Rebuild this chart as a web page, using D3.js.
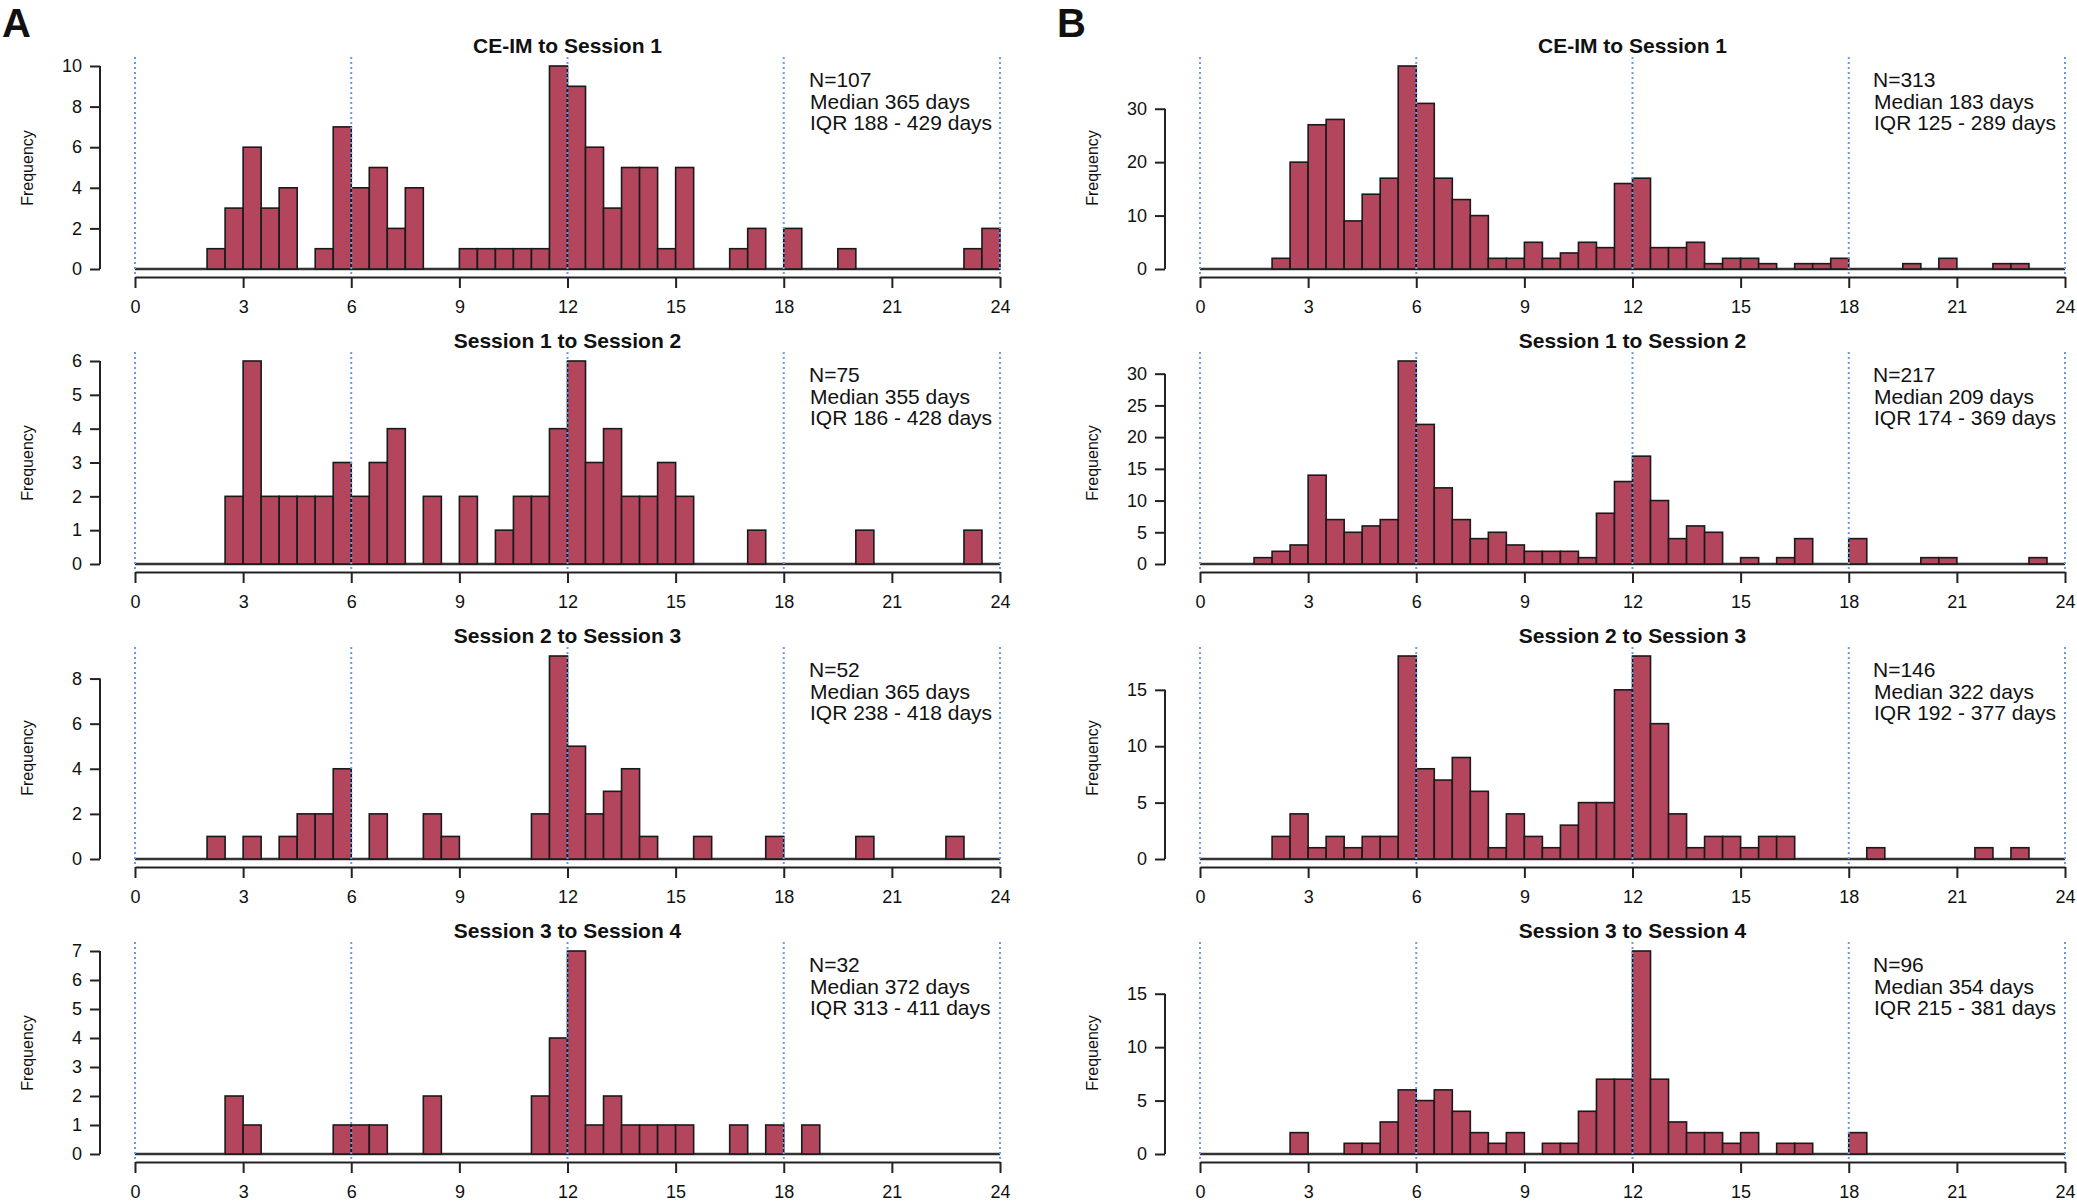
<!DOCTYPE html>
<html><head><meta charset="utf-8">
<script src="https://cdn.jsdelivr.net/npm/d3@7"></script>
<style>
body{margin:0;background:#fff}
svg{display:block}
text{font-family:"Liberation Sans",Arial,Helvetica,sans-serif;fill:#111}
</style>
</head><body>
<svg id="chart" width="2077" height="1203"></svg>
<script>
// ---- data (counts per half-month bin, 0..24 months, 48 bins) ----
const binWidth = 0.5;
const xTicks = [0, 3, 6, 9, 12, 15, 18, 21, 24];
const refLines = [0, 6, 12, 18, 24];
const panelLetters = ["A", "B"];
const titles = ["CE-IM to Session 1", "Session 1 to Session 2", "Session 2 to Session 3", "Session 3 to Session 4"];

const countsA1 = [0,0,0,0,1,3,6,3,4,0, 1,7,4,5,2,4,0,0,1,1, 1,1,1,10,9,6,3,5,5,1, 5,0,0,1,2,0,2,0,0,1, 0,0,0,0,0,0,1,2];
const countsA2 = [0,0,0,0,0,2,6,2,2,2, 2,3,2,3,4,0,2,0,2,0, 1,2,2,4,6,3,4,2,2,3, 2,0,0,0,1,0,0,0,0,0, 1,0,0,0,0,0,1,0];
const countsA3 = [0,0,0,0,1,0,1,0,1,2, 2,4,0,2,0,0,2,1,0,0, 0,0,2,9,5,2,3,4,1,0, 0,1,0,0,0,1,0,0,0,0, 1,0,0,0,0,1,0,0];
const countsA4 = [0,0,0,0,0,2,1,0,0,0, 0,1,1,1,0,0,2,0,0,0, 0,0,2,4,7,1,2,1,1,1, 1,0,0,1,0,1,0,1,0,0, 0,0,0,0,0,0,0,0];
const countsB1 = [0,0,0,0,2,20,27,28,9,14, 17,38,31,17,13,10,2,2,5,2, 3,5,4,16,17,4,4,5,1,2, 2,1,0,1,1,2,0,0,0,1, 0,2,0,0,1,1,0,0];
const countsB2 = [0,0,0,1,2,3,14,7,5,6, 7,32,22,12,7,4,5,3,2,2, 2,1,8,13,17,10,4,6,5,0, 1,0,1,4,0,0,4,0,0,0, 1,1,0,0,0,0,1,0];
const countsB3 = [0,0,0,0,2,4,1,2,1,2, 2,18,8,7,9,6,1,4,2,1, 3,5,5,15,18,12,4,1,2,2, 1,2,2,0,0,0,0,1,0,0, 0,0,0,1,0,1,0,0];
const countsB4 = [0,0,0,0,0,2,0,0,1,1, 3,6,5,6,4,2,1,2,0,1, 1,4,7,7,19,7,3,2,2,1, 2,0,1,1,0,0,2,0,0,0, 0,0,0,0,0,0,0,0];

const yTicksA1 = [0,2,4,6,8,10];
const yTicksA2 = [0,1,2,3,4,5,6];
const yTicksA3 = [0,2,4,6,8];
const yTicksA4 = [0,1,2,3,4,5,6,7];
const yTicksB1 = [0,10,20,30];
const yTicksB2 = [0,5,10,15,20,25,30];
const yTicksB3 = [0,5,10,15];
const yTicksB4 = [0,5,10,15];

const notesA1 = ["N=107", "Median 365 days", "IQR 188 - 429 days"];
const notesA2 = ["N=75", "Median 355 days", "IQR 186 - 428 days"];
const notesA3 = ["N=52", "Median 365 days", "IQR 238 - 418 days"];
const notesA4 = ["N=32", "Median 372 days", "IQR 313 - 411 days"];
const notesB1 = ["N=313", "Median 183 days", "IQR 125 - 289 days"];
const notesB2 = ["N=217", "Median 209 days", "IQR 174 - 369 days"];
const notesB3 = ["N=146", "Median 322 days", "IQR 192 - 377 days"];
const notesB4 = ["N=96", "Median 354 days", "IQR 215 - 381 days"];

const counts = [[countsA1, countsA2, countsA3, countsA4], [countsB1, countsB2, countsB3, countsB4]];
const yTicks = [[yTicksA1, yTicksA2, yTicksA3, yTicksA4], [yTicksB1, yTicksB2, yTicksB3, yTicksB4]];
const notes = [[notesA1, notesA2, notesA3, notesA4], [notesB1, notesB2, notesB3, notesB4]];

// ---- layout ----
const colX0 = [135, 1200];
const plotW = 865;
const rowY0 = 269, rowStep = 295, plotH = 203;
const barFill = "#b3465c";
const refColor = "#6b9be8";

const svg = d3.select("#chart");

panelLetters.forEach((L, c) => {
  svg.append("text").attr("x", c === 0 ? 2 : 1057).attr("y", 37)
    .style("font-size", "40px").style("font-weight", "bold").text(L);
});

for (let c = 0; c < 2; c++) {
  for (let r = 0; r < 4; r++) {
    const data = counts[c][r];
    const ticks = yTicks[c][r];
    const x0 = colX0[c];
    const y0 = rowY0 + r * rowStep;
    const maxC = d3.max(data);
    const x = d3.scaleLinear().domain([0, 24]).range([x0, x0 + plotW]);
    const y = d3.scaleLinear().domain([0, maxC]).range([y0, y0 - plotH]);
    const g = svg.append("g");

    // title
    g.append("text").attr("x", (x(0) + x(24)) / 2).attr("y", y0 - 216)
      .attr("text-anchor", "middle").style("font-size", "21px").style("font-weight", "bold")
      .text(titles[r]);

    // baseline of zero-height bins
    g.append("line").attr("x1", x(0)).attr("x2", x(24)).attr("y1", y0).attr("y2", y0)
      .attr("stroke", "#333").attr("stroke-width", 2.6);

    // bars
    g.selectAll("rect.bar").data(data.map((v, i) => ({v, i})).filter(d => d.v > 0))
      .join("rect").attr("class", "bar")
      .attr("x", d => x(d.i * binWidth))
      .attr("width", d => x((d.i + 1) * binWidth) - x(d.i * binWidth))
      .attr("y", d => y(d.v))
      .attr("height", d => y0 - y(d.v))
      .attr("fill", barFill).attr("stroke", "#1a1a1a").attr("stroke-width", 1.6);

    // reference dotted lines
    g.selectAll("line.ref").data(refLines).join("line").attr("class", "ref")
      .attr("x1", d => x(d)).attr("x2", d => x(d))
      .attr("y1", y0 - 212).attr("y2", y0 + 8)
      .attr("stroke", refColor).attr("stroke-width", 2).attr("stroke-dasharray", "2,3");

    // x axis
    const xa = g.append("g").attr("transform", `translate(0,${y0 + 8})`)
      .call(d3.axisBottom(x).tickValues(xTicks).tickSize(11).tickSizeOuter(0).tickPadding(12).tickFormat(d3.format("d")));
    xa.select(".domain").attr("stroke", "#222").attr("stroke-width", 2);
    xa.selectAll(".tick line").attr("stroke", "#222").attr("stroke-width", 2);
    xa.selectAll("text").style("font-size", "18px").attr("fill", "#111");

    // y axis
    const ya = g.append("g").attr("transform", `translate(${x0 - 35},0)`)
      .call(d3.axisLeft(y).tickValues(ticks).tickSize(10).tickPadding(8).tickFormat(d3.format("d")));
    ya.select(".domain").remove();
    ya.append("line").attr("x1", 0).attr("x2", 0).attr("y1", y(0)).attr("y2", y(d3.max(ticks)))
      .attr("stroke", "#222").attr("stroke-width", 2);
    ya.selectAll(".tick line").attr("stroke", "#222").attr("stroke-width", 2);
    ya.selectAll("text").style("font-size", "18px").attr("fill", "#111");

    // y label
    g.append("text").attr("transform", `translate(${x0 - 102},${y0 - 101}) rotate(-90)`)
      .attr("text-anchor", "middle").style("font-size", "16px").text("Frequency");

    // annotation
    const nx = c === 0 ? 809 : 1873;
    notes[c][r].forEach((t, k) => {
      g.append("text").attr("x", nx + (k > 0 ? 1 : 0)).attr("y", y0 - 182 + k * 21.5)
        .style("font-size", "21px").text(t);
    });
  }
}
</script>
</body></html>
